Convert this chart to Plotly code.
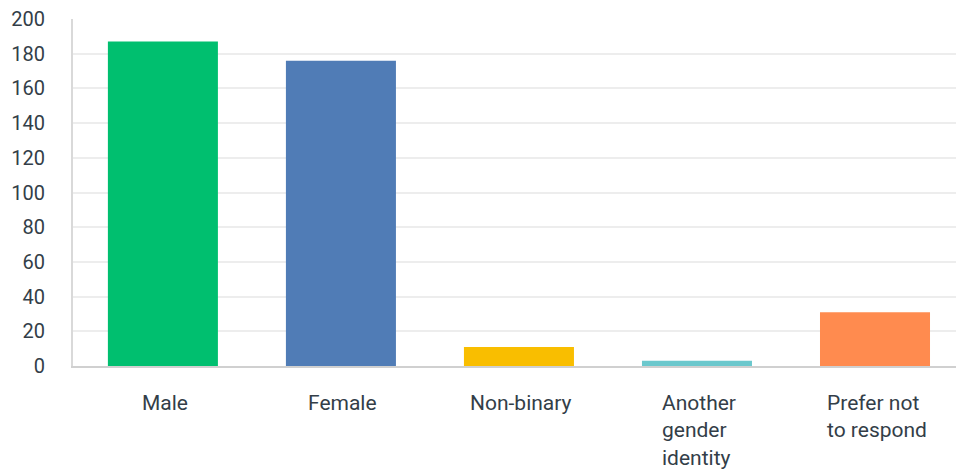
import plotly.graph_objects as go

# Survey responses by gender identity
categories = ["Male", "Female", "Non-binary", "Another gender identity", "Prefer not to respond"]
labels = ["Male", "Female", "Non-binary", "Another<br>gender<br>identity", "Prefer not<br>to respond"]
counts = [187, 176, 11, 3, 31]
colors = ["#00bf6f", "#507cb6", "#f9be00", "#6bc8cd", "#ff8b4f"]

y_ticks = [0, 20, 40, 60, 80, 100, 120, 140, 160, 180, 200]

text_color = "#333e48"
font_family = "Roboto, Lato, sans-serif"

fig = go.Figure(
    go.Bar(
        x=categories,
        y=counts,
        marker=dict(color=colors, line=dict(width=0)),
        width=0.618,
        hoverinfo="x+y",
    )
)

# Category labels below the bars, lines left-aligned within each block
for cat, lab in zip(categories, labels):
    fig.add_annotation(
        x=cat, xref="x",
        y=0, yref="paper",
        text=lab,
        showarrow=False,
        xanchor="center", yanchor="top",
        align="left",
        xshift=2,
        yshift=-23,
        font=dict(family=font_family, size=21, color=text_color),
    )

fig.update_layout(
    width=956,
    height=472,
    margin=dict(l=73, r=0, t=19, b=106),
    paper_bgcolor="white",
    plot_bgcolor="white",
    showlegend=False,
    bargap=0.382,
    font=dict(family=font_family, size=20, color=text_color),
    xaxis=dict(
        type="category",
        range=[-0.505, 4.455],
        showticklabels=False,
        showgrid=False,
        showline=True,
        linecolor="#d0d0d0",
        linewidth=2,
        ticks="",
        zeroline=False,
        fixedrange=True,
    ),
    yaxis=dict(
        range=[0, 200],
        tickvals=y_ticks,
        ticktext=[str(v) for v in y_ticks],
        showgrid=True,
        gridcolor="#ededed",
        gridwidth=2,
        showline=True,
        linecolor="#d9d9d9",
        linewidth=2,
        zeroline=False,
        ticks="",
        ticklabelstandoff=22,
        tickfont=dict(family=font_family, size=20, color=text_color),
        fixedrange=True,
    ),
)

fig.write_html("out.html")
